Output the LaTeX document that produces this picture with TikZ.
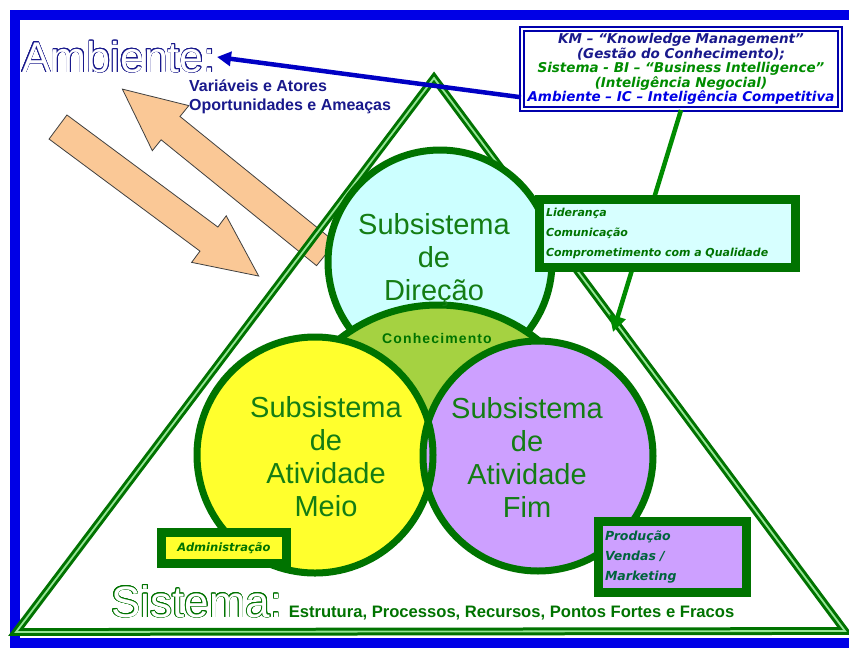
\documentclass[tikz,border=0pt]{standalone}
\usepackage{fontspec}
\setmainfont{Liberation Sans}
\newfontfamily\notefont{DejaVu Sans}
\usepackage{contour}
\contourlength{0.7pt}
\usetikzlibrary{positioning,calc,arrows.meta}

\definecolor{frameblue}{RGB}{0,0,230}
\definecolor{navyblue}{RGB}{25,25,140}
\definecolor{dkgreen}{RGB}{0,115,0}
\definecolor{txtgreen}{RGB}{20,125,20}
\definecolor{ltgreen}{RGB}{150,230,150}
\definecolor{kmgreen}{RGB}{0,140,0}
\definecolor{cyanfill}{RGB}{204,255,255}
\definecolor{boxcyan}{RGB}{215,255,255}
\definecolor{yellowfill}{RGB}{255,255,45}
\definecolor{lilacfill}{RGB}{205,160,255}
\definecolor{lensgreen}{RGB}{165,210,65}
\definecolor{peach}{RGB}{250,200,150}
\definecolor{tealtext}{RGB}{0,100,60}

\begin{document}
\begin{tikzpicture}[x=1pt,y=-1pt,
    ring/.style={draw=dkgreen, line width=7},
    circtext/.style={font=\fontsize{29}{33}\selectfont, text=txtgreen, align=center},
    notebox/.style={draw=dkgreen, line width=9, inner sep=7,
      font=\notefont\fontsize{12}{20}\bfseries\itshape\selectfont, text=dkgreen, align=left},
    flowarrow/.style={draw=black!75, line width=0.8, fill=peach, line join=miter}]

  \useasboundingbox (0,0) rectangle (849,649);
  \fill[white] (0,0) rectangle (849,649);

  % frame
  \draw[frameblue, line width=10] (15,15) rectangle (880,643);

  % big arrows (environment <-> system)
  \begin{scope}[shift={(326,254)}, rotate=141]
    \draw[flowarrow] (0,-15) -- (200,-15) -- (200,-29) -- (262,0) -- (200,29) -- (200,15) -- (0,15) -- cycle;
  \end{scope}
  \begin{scope}[shift={(58,127)}, rotate=-36.6]
    \draw[flowarrow] (0,-15) -- (188,-15) -- (188,-29) -- (250,0) -- (188,29) -- (188,15) -- (0,15) -- cycle;
  \end{scope}

  % system triangle
  \draw[dkgreen, line width=3, double=ltgreen, double distance=1.8]
    (434,78) -- (16,632) -- (845,631) -- cycle;

  % subsystems
  \filldraw[ring, fill=cyanfill] (440,262) circle (112);
  \begin{scope}
    \clip (0,0) rectangle (849,420);
    \filldraw[ring, fill=lensgreen] (438,465) circle (160);
  \end{scope}
  \fill[yellowfill] (315,455) circle (118);
  \fill[lilacfill] (538,456) circle (115);
  \draw[ring] (315,455) circle (118);
  \draw[ring] (538,456) circle (115);

  \node[circtext] (dir) at (434,260) {Subsistema\\de\\Direção};
  \node[circtext] (meio) at (326,457) {Subsistema\\de\\Atividade\\Meio};
  \node[circtext] (fim) at (527,457) {Subsistema\\de\\Atividade\\Fim};
  \node[font=\fontsize{14}{15}\bfseries\selectfont, text=dkgreen] (know) at (437,338)
    {\addfontfeature{LetterSpace=8}Conhecimento};

  % labels
  \node[anchor=base west, inner sep=1, font=\fontsize{43}{43}\selectfont] (amb) at (21,72)
    {\contour{navyblue}{\textcolor{white}{Ambiente:}}};
  \node[anchor=north west, inner sep=0, align=left, text=navyblue,
    font=\fontsize{16}{19}\bfseries\selectfont] (vars) at (189,80)
    {Variáveis e Atores\\Oportunidades e Ameaças};
  \node[anchor=base west, inner sep=1, font=\fontsize{44}{44}\selectfont] (sist) at (110,617)
    {\contour{dkgreen}{\textcolor{white}{Sistema:}}};
  \node[inner sep=0, text=dkgreen, font=\fontsize{16.6}{18}\bfseries\selectfont,
    right=5pt of sist.base east, anchor=base west] (struct)
    {Estrutura, Processos, Recursos, Pontos Fortes e Fracos};

  % knowledge box
  \node[draw=frameblue!75!black, line width=2.2, double=white, double distance=1.2,
    fill=white, minimum width=318, minimum height=80, align=center, inner sep=3,
    font=\notefont\fontsize{13.5}{14.6}\bfseries\itshape\selectfont] (km) at (681,69)
    {\textcolor{navyblue}{KM – “Knowledge Management”}\\
     \textcolor{navyblue}{(Gestão do Conhecimento);}\\
     \textcolor{kmgreen}{Sistema - BI – “Business Intelligence”}\\
     \textcolor{kmgreen}{(Inteligência Negocial)}\\
     \textcolor{frameblue}{Ambiente – IC – Inteligência Competitiva}};

  \draw[frameblue!85!black, line width=4.5, -{Triangle[length=14,width=14]}] (km.190) -- (amb.east);
  \draw[kmgreen, line width=4.5, -{Triangle[length=16,width=16]}] (km.south) -- (613,332);

  % notes
  \node[notebox, fill=boxcyan, text width=242, minimum height=68,
    font=\notefont\fontsize{11}{20}\bfseries\itshape\selectfont] (lid) at (667,233)
    {Liderança\\Comunicação\\Comprometimento com a Qualidade};
  \node[notebox, fill=yellowfill, minimum width=125, minimum height=31, inner sep=2,
    font=\notefont\fontsize{11.5}{13}\bfseries\itshape\selectfont] (adm) at (224,548) {Administração};
  \node[notebox, fill=lilacfill, text width=134, minimum height=71, text=tealtext,
    font=\notefont\fontsize{12.5}{20}\bfseries\itshape\selectfont] (prod) at (672,557)
    {Produção\\Vendas /\\Marketing};
\end{tikzpicture}
\end{document}
